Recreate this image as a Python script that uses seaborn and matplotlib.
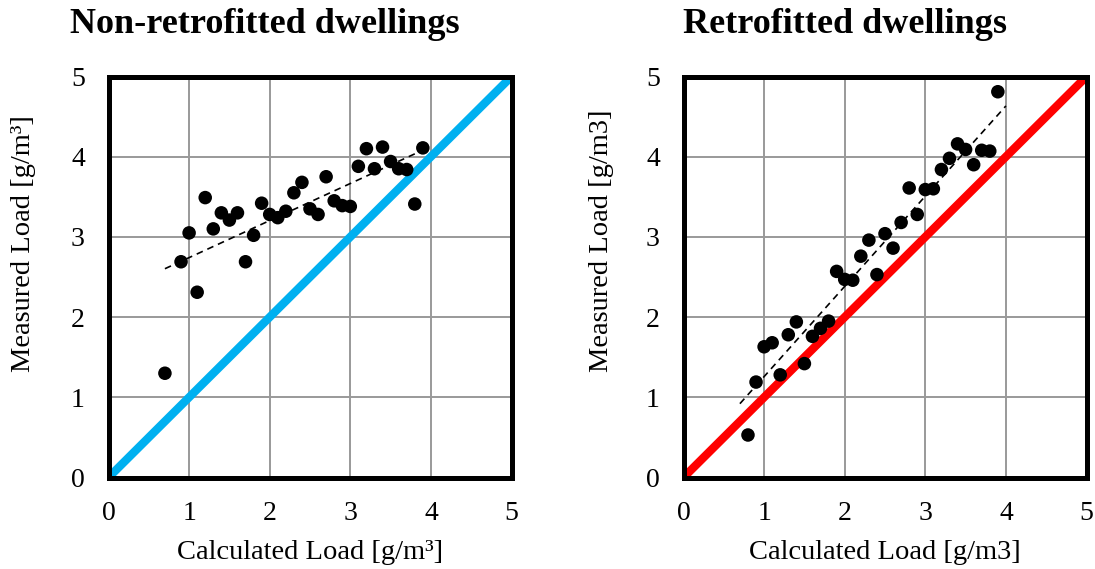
import numpy as np
import pandas as pd
import matplotlib
matplotlib.use("Agg")
import matplotlib.pyplot as plt
import seaborn as sns

# ---- data ----
non_x = [0.7, 0.9, 1.0, 1.1, 1.2, 1.3, 1.4, 1.5, 1.6, 1.7, 1.8, 1.9, 2.0, 2.1, 2.2, 2.3,
         2.4, 2.5, 2.6, 2.7, 2.8, 2.9, 3.0, 3.1, 3.2, 3.3, 3.4, 3.5, 3.6, 3.7, 3.8, 3.9]
non_y = [1.30, 2.69, 3.05, 2.31, 3.49, 3.10, 3.30, 3.21, 3.30, 2.69, 3.02, 3.42, 3.28, 3.24,
         3.32, 3.55, 3.68, 3.35, 3.28, 3.75, 3.45, 3.39, 3.38, 3.88, 4.10, 3.85, 4.12, 3.94,
         3.85, 3.84, 3.41, 4.11]

ret_x = [0.8, 0.9, 1.0, 1.1, 1.2, 1.3, 1.4, 1.5, 1.6, 1.7, 1.8, 1.9, 2.0, 2.1, 2.2, 2.3,
         2.4, 2.5, 2.6, 2.7, 2.8, 2.9, 3.0, 3.1, 3.2, 3.3, 3.4, 3.5, 3.6, 3.7, 3.8, 3.9]
ret_y = [0.53, 1.19, 1.63, 1.68, 1.28, 1.78, 1.94, 1.42, 1.76, 1.86, 1.95, 2.57, 2.47, 2.46,
         2.76, 2.96, 2.53, 3.04, 2.86, 3.18, 3.61, 3.28, 3.59, 3.60, 3.84, 3.98, 4.16, 4.09,
         3.90, 4.08, 4.07, 4.81]

ref_line = [0, 5]
ticks = [0, 1, 2, 3, 4, 5]
titles = ["Non-retrofitted dwellings", "Retrofitted dwellings"]
xlabels = ["Calculated Load [g/m\u00b3]", "Calculated Load [g/m3]"]
ylabels = ["Measured Load [g/m\u00b3]", "Measured Load [g/m3]"]
ref_colors = ["#00B0F0", "#FF0000"]
trend_ext = [0.0, 0.1]

sns.set_theme(style="white")
plt.rcParams["font.family"] = ["Liberation Serif", "DejaVu Serif"]

W, H = 1095, 569
fig = plt.figure(figsize=(W / 100, H / 100), dpi=100)

ax_boxes = [(108.5, 76.5, 511.5, 477.5), (683.5, 76.5, 1086.5, 477.5)]
title_x = [70, 683]
ylabel_x = [24, 602]

datasets = [(non_x, non_y), (ret_x, ret_y)]

for i, ((xs, ys), (x0, y0, x1, y1)) in enumerate(zip(datasets, ax_boxes)):
    ax = fig.add_axes([x0 / W, 1 - y1 / H, (x1 - x0) / W, (y1 - y0) / H])
    df = pd.DataFrame({"x": xs, "y": ys})

    ax.set_xlim(0, 5)
    ax.set_ylim(0, 5)
    ax.set_xticks(ticks)
    ax.set_yticks(ticks)
    ax.grid(True, color="#999999", linewidth=1.4)
    ax.set_axisbelow(True)

    # reference y = x line
    sns.lineplot(x=ref_line, y=ref_line, ax=ax, color=ref_colors[i], linewidth=6.0,
                 solid_capstyle="butt", zorder=2)

    # points
    sns.scatterplot(data=df, x="x", y="y", ax=ax, color="black", s=95,
                    edgecolor="none", zorder=4)

    # linear trendline
    k, b = np.polyfit(xs, ys, 1)
    tx = np.array([min(xs) - trend_ext[i], max(xs) + trend_ext[i]])
    ax.plot(tx, k * tx + b, color="black", linewidth=1.2, linestyle=(0, (4, 3)), zorder=3)

    for sp in ax.spines.values():
        sp.set_visible(True)
        sp.set_color("black")
        sp.set_linewidth(3.6)
        sp.set_capstyle("projecting")
        sp.set_zorder(5)

    ax.tick_params(axis="both", length=0, labelsize=20, colors="black")
    ax.tick_params(axis="x", pad=17)
    ax.tick_params(axis="y", pad=17)
    ax.set_xlabel(xlabels[i], fontsize=20.5, labelpad=10, color="black")
    ax.set_ylabel("")

    fig.text(title_x[i] / W, 1 - 33 / H, titles[i], fontsize=26, fontweight="bold",
             ha="left", va="baseline", color="black")
    fig.text(ylabel_x[i] / W, 1 - 372 / H, ylabels[i], fontsize=20.5, rotation=90,
             ha="center", va="bottom", color="black")

fig.savefig("out.png", dpi=100)
